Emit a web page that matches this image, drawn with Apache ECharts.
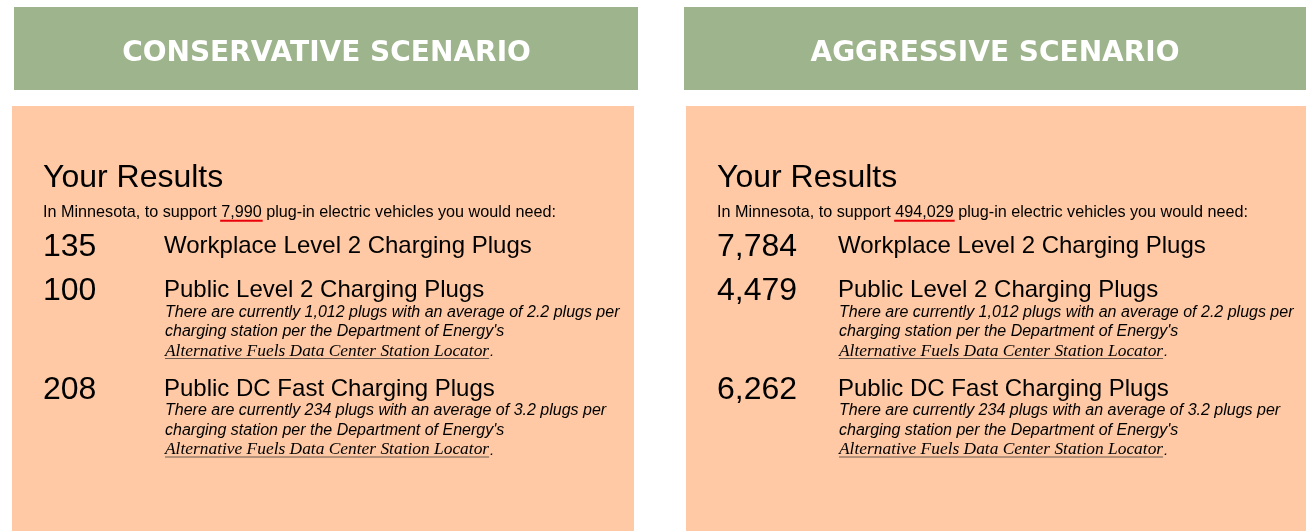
<!DOCTYPE html>
<html>
<head>
<meta charset="utf-8">
<script src="https://cdn.jsdelivr.net/npm/echarts@6/dist/echarts.min.js"></script>
<style>
html,body{margin:0;padding:0;background:#fff;}
#main{width:1306px;height:531px;}
</style>
</head>
<body>
<div id="main"></div>
<script>
// ---- data ----
const scenarios = ['CONSERVATIVE SCENARIO', 'AGGRESSIVE SCENARIO'];
const stateName = 'Minnesota';
const vehicleCounts = [7990, 494029];
const plugTypes = [
  'Workplace Level 2 Charging Plugs',
  'Public Level 2 Charging Plugs',
  'Public DC Fast Charging Plugs'
];
const conservativePlugs = [135, 100, 208];
const aggressivePlugs = [7784, 4479, 6262];
const plugNotes = [
  [],
  ['There are currently 1,012 plugs with an average of 2.2 plugs per', "charging station per the Department of Energy's"],
  ['There are currently 234 plugs with an average of 3.2 plugs per', "charging station per the Department of Energy's"]
];
const sourceLink = 'Alternative Fuels Data Center Station Locator';
const resultsTitle = 'Your Results';

// ---- layout / style ----
const GREEN = '#9eb48c';
const PEACH = '#fec9a4';
const SANS = '"Liberation Sans", Arial, sans-serif';
const SERIF = '"Liberation Serif", "DejaVu Serif", serif';
const panelX = [0, 674];
const rowY = [247, 291.5, 390];

const measureCtx = document.createElement('canvas').getContext('2d');
function textWidth(str, font) { measureCtx.font = font; return measureCtx.measureText(str).width; }

function txt(text, x, y, o) {
  o = o || {};
  const style = {
    text: text, x: x, y: y,
    fill: o.fill || '#000',
    fontSize: o.size || 16,
    fontFamily: o.family || SANS,
    fontWeight: o.weight || 'normal',
    fontStyle: o.style || 'normal',
    align: o.align || 'left', textAlign: o.align || 'left',
    verticalAlign: 'middle', textVerticalAlign: 'middle'
  };
  return { type: 'text', silent: true, style: style };
}
function fontStr(o) {
  return (o.style || 'normal') + ' ' + (o.weight || 'normal') + ' ' + o.size + 'px ' + o.family;
}

const elements = [];
const allPlugs = [conservativePlugs, aggressivePlugs];
scenarios.forEach(function (name, s) {
  const ox = panelX[s];
  // header box
  elements.push({ type: 'rect', silent: true, shape: s === 0 ? { x: 14, y: 7, width: 624, height: 83 } : { x: 684, y: 7, width: 640, height: 83 }, style: { fill: GREEN } });
  elements.push(txt(name, s === 0 ? 326.5 : 995, 54, { fill: '#fff', size: 28, weight: 'bold', family: '"DejaVu Sans", sans-serif', align: 'center' }));
  // results box
  elements.push({ type: 'rect', silent: true, shape: s === 0 ? { x: 12, y: 106, width: 622, height: 430 } : { x: 686, y: 106, width: 640, height: 430 }, style: { fill: PEACH } });
  elements.push(txt(resultsTitle, 43 + ox, 178.5, { size: 32 }));
  // subtitle with underlined vehicle count
  const countStr = echarts.format.addCommas(vehicleCounts[s]);
  const pre = 'In ' + stateName + ', to support ';
  const sub = pre + countStr + ' plug-in electric vehicles you would need:';
  const subFont = { size: 16.2, family: SANS };
  elements.push(txt(sub, 43 + ox, 212.5, subFont));
  const ux0 = 43 + ox + textWidth(pre, fontStr(subFont));
  const ux1 = ux0 + textWidth(countStr, fontStr(subFont));
  elements.push({ type: 'line', silent: true, shape: { x1: ux0 - 1, y1: 220.8, x2: ux1 + 1, y2: 220.8 }, style: { stroke: '#e8000b', lineWidth: 2 } });
  // rows
  plugTypes.forEach(function (label, r) {
    const y = rowY[r];
    elements.push(txt(echarts.format.addCommas(allPlugs[s][r]), 43 + ox, y, { size: 32 }));
    elements.push(txt(label, 164 + ox, y - 1, { size: 24 }));
    const notes = plugNotes[r];
    if (notes.length) {
      notes.forEach(function (line, k) {
        elements.push(txt(line, 165 + ox, y + 21 + k * 19.2, { size: 16, style: 'italic' }));
      });
      const linkFont = { size: 17.4, family: SERIF, style: 'italic' };
      const ly = y + 59.5;
      elements.push(txt(sourceLink, 165 + ox, ly, linkFont));
      const lw = textWidth(sourceLink, fontStr(linkFont));
      elements.push(txt('.', 165 + ox + lw + 1, ly + 1, { size: 15, style: 'italic' }));
      elements.push({ type: 'line', silent: true, shape: { x1: 165 + ox, y1: ly + 7.5, x2: 165 + ox + lw, y2: ly + 7.5 }, style: { stroke: '#6b5a50', lineWidth: 1 } });
    }
  });
});

const chart = echarts.init(document.getElementById('main'), null, { renderer: 'canvas' });
chart.setOption({
  backgroundColor: '#ffffff',
  animation: false,
  graphic: { elements: elements }
});
</script>
</body>
</html>
